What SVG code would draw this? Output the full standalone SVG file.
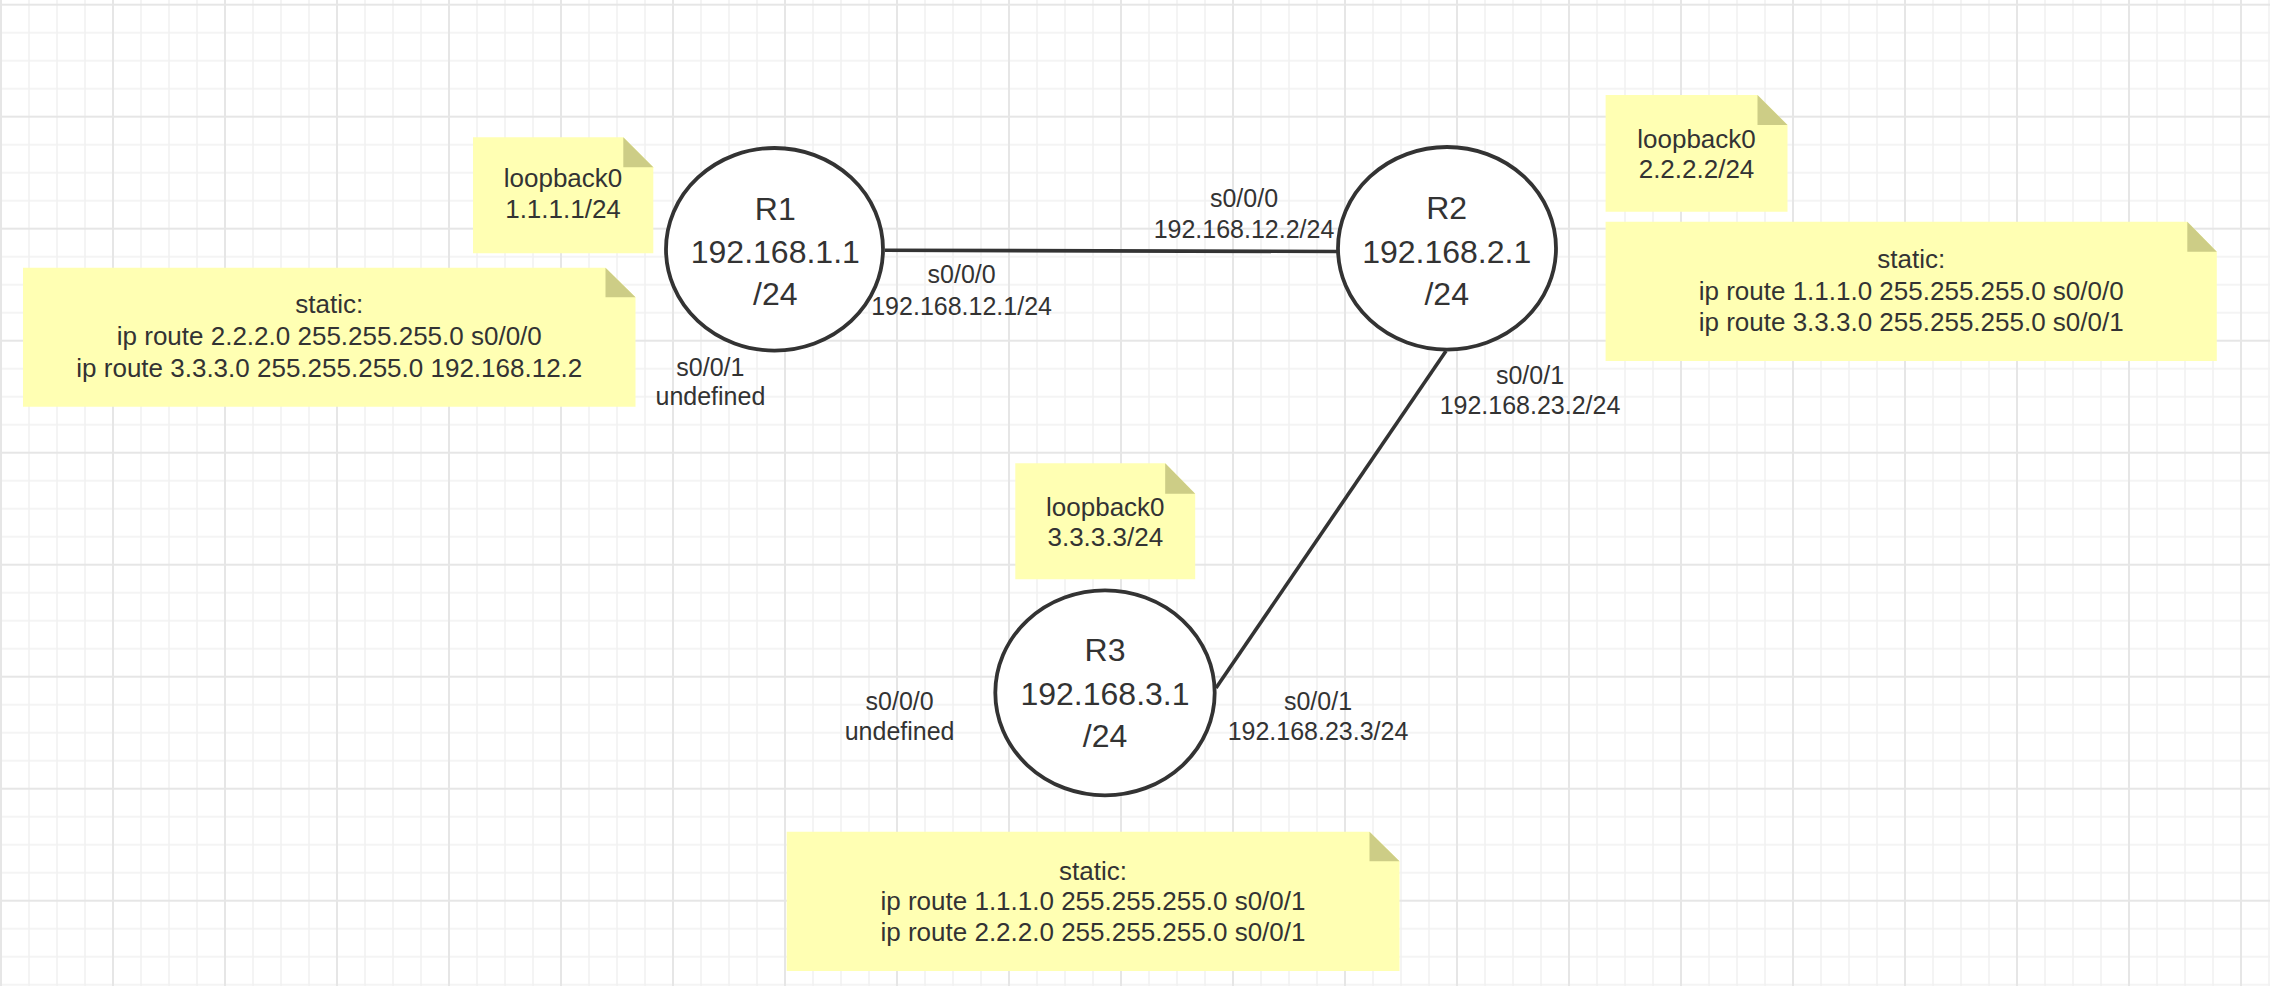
<svg xmlns="http://www.w3.org/2000/svg" width="2270" height="986" viewBox="0 0 2270 986">
  <defs>
    <pattern id="grid" patternUnits="userSpaceOnUse" x="-13" y="-9.3" width="112" height="112">
      <g stroke="#f1f1f1" stroke-width="1.6">
        <line x1="42" y1="0" x2="42" y2="112"/>
        <line x1="70" y1="0" x2="70" y2="112"/>
        <line x1="98" y1="0" x2="98" y2="112"/>
        <line x1="0" y1="42" x2="112" y2="42"/>
        <line x1="0" y1="70" x2="112" y2="70"/>
        <line x1="0" y1="98" x2="112" y2="98"/>
      </g>
      <g stroke="#e6e6e6" stroke-width="2">
        <line x1="14" y1="0" x2="14" y2="112"/>
        <line x1="0" y1="14" x2="112" y2="14"/>
      </g>
    </pattern>
  </defs>
  <style>
    .router { fill: #ffffff; stroke: #333333; stroke-width: 3.8; }
    .rtext { font-family: "Liberation Sans", Arial, sans-serif; font-size: 32px; fill: #333333; text-anchor: middle; }
    .note { fill: #ffffb3; }
    .fold { fill: #cdcd86; }
    .ntext { font-family: "Liberation Sans", Arial, sans-serif; font-size: 26px; fill: #333333; text-anchor: middle; }
    .link { stroke: #333333; stroke-width: 3.6; fill: none; }
    .ltext { font-family: "Liberation Sans", Arial, sans-serif; font-size: 25px; fill: #333333; text-anchor: middle; }
  </style>
  <rect x="0" y="0" width="2270" height="986" fill="#ffffff"/>
  <rect x="0" y="0" width="2270" height="986" fill="url(#grid)"/>

  <g id="connectors">
    <line class="link" x1="885" y1="250.3" x2="1337" y2="251.5"/>
    <line class="link" x1="1446" y1="351" x2="1216" y2="688"/>
  </g>

  <g id="edge-labels">
    <text class="ltext" x="961.6" y="283.3">s0/0/0</text>
    <text class="ltext" x="961.6" y="315">192.168.12.1/24</text>
    <text class="ltext" x="1244" y="206.7">s0/0/0</text>
    <text class="ltext" x="1244" y="238.3">192.168.12.2/24</text>
    <text class="ltext" x="710.4" y="376">s0/0/1</text>
    <text class="ltext" x="710.4" y="405">undefined</text>
    <text class="ltext" x="1530" y="384">s0/0/1</text>
    <text class="ltext" x="1530" y="414">192.168.23.2/24</text>
    <text class="ltext" x="899.6" y="709.8">s0/0/0</text>
    <text class="ltext" x="899.6" y="740">undefined</text>
    <text class="ltext" x="1318" y="709.8">s0/0/1</text>
    <text class="ltext" x="1318" y="740">192.168.23.3/24</text>
  </g>

  <g id="R1">
    <ellipse class="router" cx="774.5" cy="249.3" rx="108.5" ry="101.3"/>
    <text class="rtext" x="775.3" y="220">R1</text>
    <text class="rtext" x="775.3" y="262.7">192.168.1.1</text>
    <text class="rtext" x="775.3" y="305">/24</text>
  </g>

  <g id="R2">
    <ellipse class="router" cx="1447" cy="248.3" rx="109" ry="101.3"/>
    <text class="rtext" x="1446.7" y="219.3">R2</text>
    <text class="rtext" x="1446.7" y="262.7">192.168.2.1</text>
    <text class="rtext" x="1446.7" y="305">/24</text>
  </g>

  <g id="R3">
    <ellipse class="router" cx="1105" cy="692.8" rx="109.7" ry="102.5"/>
    <text class="rtext" x="1105" y="660.7">R3</text>
    <text class="rtext" x="1105" y="705">192.168.3.1</text>
    <text class="rtext" x="1105" y="746.7">/24</text>
  </g>

  <g id="R1-loopback">
    <path class="note" d="M473,137.3 H623.3 L653.3,167.3 V253.3 H473 Z"/>
    <path class="fold" d="M623.3,137.3 V167.3 H653.3 Z"/>
    <text class="ntext" x="563" y="187.3">loopback0</text>
    <text class="ntext" x="563" y="218.3">1.1.1.1/24</text>
  </g>

  <g id="R1-static">
    <path class="note" d="M23,267.7 H605.5 L635.5,297.2 V406.7 H23 Z"/>
    <path class="fold" d="M605.5,267.7 V297.2 H635.5 Z"/>
    <text class="ntext" x="329.3" y="313.3">static:</text>
    <text class="ntext" x="329.3" y="345">ip route 2.2.2.0 255.255.255.0 s0/0/0</text>
    <text class="ntext" x="329.3" y="376.7">ip route 3.3.3.0 255.255.255.0 192.168.12.2</text>
  </g>

  <g id="R2-loopback">
    <path class="note" d="M1605.6,95 H1757.5 L1787.5,125 V211.7 H1605.6 Z"/>
    <path class="fold" d="M1757.5,95 V125 H1787.5 Z"/>
    <text class="ntext" x="1696.5" y="148.3">loopback0</text>
    <text class="ntext" x="1696.5" y="178.3">2.2.2.2/24</text>
  </g>

  <g id="R2-static">
    <path class="note" d="M1605.6,221.7 H2187.3 L2216.8,251.7 V361 H1605.6 Z"/>
    <path class="fold" d="M2187.3,221.7 V251.7 H2216.8 Z"/>
    <text class="ntext" x="1911.2" y="268.3">static:</text>
    <text class="ntext" x="1911.2" y="300">ip route 1.1.1.0 255.255.255.0 s0/0/0</text>
    <text class="ntext" x="1911.2" y="330.7">ip route 3.3.3.0 255.255.255.0 s0/0/1</text>
  </g>

  <g id="R3-loopback">
    <path class="note" d="M1015.3,463.3 H1165.2 L1195.2,493.8 V579.3 H1015.3 Z"/>
    <path class="fold" d="M1165.2,463.3 V493.8 H1195.2 Z"/>
    <text class="ntext" x="1105.3" y="515.9">loopback0</text>
    <text class="ntext" x="1105.3" y="546.2">3.3.3.3/24</text>
  </g>

  <g id="R3-static">
    <path class="note" d="M786.7,831.7 H1369.5 L1399.5,861.3 V971 H786.7 Z"/>
    <path class="fold" d="M1369.5,831.7 V861.3 H1399.5 Z"/>
    <text class="ntext" x="1093" y="879.7">static:</text>
    <text class="ntext" x="1093" y="910.3">ip route 1.1.1.0 255.255.255.0 s0/0/1</text>
    <text class="ntext" x="1093" y="941">ip route 2.2.2.0 255.255.255.0 s0/0/1</text>
  </g>
</svg>
